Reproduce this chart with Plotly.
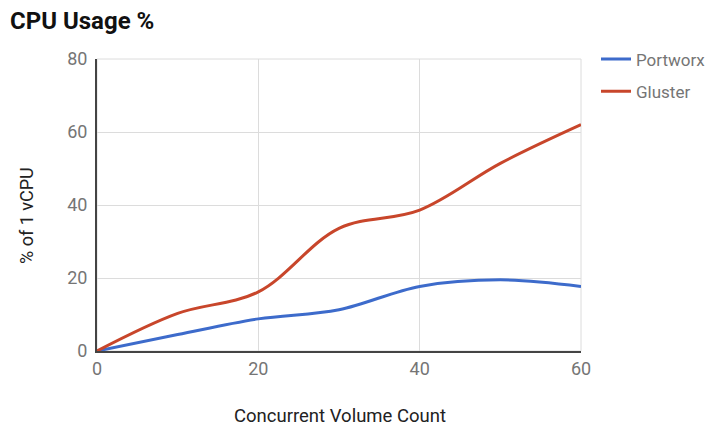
import plotly.graph_objects as go

x_vals = [0, 10, 20, 30, 40, 50, 60]
portworx = [0, 4.5, 8.8, 11.3, 17.7, 19.5, 17.7]
gluster = [0, 10.3, 16.2, 33.6, 38.6, 51.4, 62.0]
series_names = ["Portworx", "Gluster"]
colors = ["#3d6bcb", "#c8462b"]

# page body has an 8px margin, so the figure is drawn 8px smaller and shifted
W, H = 707, 419
L, T, R, B = 89, 51, 134, 76
OFF = 8

fig = go.Figure()
for name, ys, c in zip(series_names, [portworx, gluster], colors):
    fig.add_trace(go.Scatter(x=x_vals, y=ys, name=name, mode="lines", legendgroup=name,
                             line=dict(color=c, width=3, shape="spline", smoothing=1.0)))

pw = W - L - R
ph = H - T - B

def px_x(page_x):
    return (page_x - OFF - L) / pw

def px_y(page_y):
    return (H - B - (page_y - OFF)) / ph

fig.update_layout(
    width=W, height=H,
    margin=dict(l=L, r=R, t=T, b=B, autoexpand=False),
    paper_bgcolor="white", plot_bgcolor="white",
    font=dict(family="Roboto", size=18, color="#757575"),
    title=dict(text="<b>CPU Usage %</b>", x=2 / W, xanchor="left",
               y=1 - (21 - OFF) / H, yanchor="middle",
               font=dict(family="Roboto", size=24, color="#111111")),
    xaxis=dict(range=[0, 60], tickvals=[0, 20, 40, 60], showgrid=True, gridcolor="#dcdcdc",
               gridwidth=1, zeroline=False, showline=True, linecolor="#444444", linewidth=2,
               ticks="", tickfont=dict(size=18, color="#757575")),
    yaxis=dict(range=[0, 80], tickvals=[0, 20, 40, 60, 80], showgrid=True, gridcolor="#dcdcdc",
               gridwidth=1, zeroline=False, showline=True, linecolor="#444444", linewidth=2,
               ticks="", tickfont=dict(size=18, color="#757575"), ticklabelstandoff=4),
    legend=dict(x=px_x(596), y=px_y(41.5), xanchor="left", yanchor="top",
                bgcolor="rgba(0,0,0,0)", traceorder="grouped",
                font=dict(size=17, color="#757575"), tracegroupgap=7, itemwidth=30),
    showlegend=True,
    annotations=[
        dict(text="Concurrent Volume Count", xref="paper", yref="paper",
             x=px_x(340), y=px_y(416),
             xanchor="center", yanchor="middle", showarrow=False,
             font=dict(size=18.5, color="#222222")),
        dict(text="% of 1 vCPU", xref="paper", yref="paper",
             x=px_x(26), y=px_y(216),
             xanchor="center", yanchor="middle", showarrow=False, textangle=-90,
             font=dict(size=18, color="#222222")),
    ],
)
fig.add_shape(type="rect", xref="paper", yref="paper", x0=0, y0=0, x1=1, y1=1,
              line=dict(color="#dcdcdc", width=1), layer="below")

fig.write_html("out.html")
